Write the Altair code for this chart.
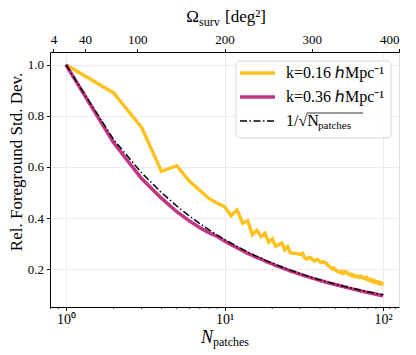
import altair as alt
import pandas as pd
import numpy as np

n_patches = list(range(1, 101))
std_k016 = [
    1.0, 0.89, 0.755, 0.583, 0.605, 0.545, 0.508, 0.476, 0.458, 0.445,
    0.41, 0.432, 0.38, 0.39, 0.335, 0.352, 0.328, 0.34, 0.305, 0.318,
    0.29, 0.296, 0.302, 0.276, 0.288, 0.265, 0.262, 0.262, 0.26, 0.258,
    0.262, 0.245, 0.24, 0.245, 0.244, 0.236, 0.232, 0.238, 0.236, 0.228,
    0.226, 0.23, 0.226, 0.222, 0.214, 0.21, 0.206, 0.2, 0.204, 0.198,
    0.194, 0.19, 0.19, 0.186, 0.19, 0.184, 0.19, 0.186, 0.188, 0.182,
    0.18, 0.178, 0.18, 0.174, 0.176, 0.172, 0.174, 0.17, 0.172, 0.171,
    0.168, 0.172, 0.168, 0.166, 0.168, 0.164, 0.165, 0.162, 0.166, 0.16,
    0.158, 0.16, 0.156, 0.158, 0.154, 0.156, 0.151, 0.154, 0.15, 0.152,
    0.149, 0.15, 0.146, 0.148, 0.144, 0.146, 0.143, 0.145, 0.14, 0.138,
]
std_k036 = [
    1.0, 0.695, 0.555, 0.478, 0.425, 0.389, 0.362, 0.342, 0.328, 0.31,
    0.296, 0.284, 0.272, 0.262, 0.254, 0.245, 0.24, 0.232, 0.226, 0.221,
    0.214, 0.21, 0.206, 0.201, 0.197, 0.193, 0.19, 0.187, 0.183, 0.18,
    0.178, 0.174, 0.172, 0.169, 0.167, 0.164, 0.163, 0.16, 0.158, 0.157,
    0.154, 0.153, 0.15, 0.149, 0.147, 0.146, 0.144, 0.143, 0.141, 0.14,
    0.138, 0.137, 0.136, 0.134, 0.133, 0.132, 0.131, 0.129, 0.129, 0.127,
    0.126, 0.125, 0.124, 0.123, 0.122, 0.121, 0.12, 0.119, 0.119, 0.117,
    0.117, 0.115, 0.115, 0.114, 0.113, 0.112, 0.112, 0.11, 0.11, 0.109,
    0.108, 0.108, 0.106, 0.106, 0.105, 0.105, 0.104, 0.103, 0.103, 0.102,
    0.101, 0.101, 0.1, 0.099, 0.099, 0.098, 0.098, 0.097, 0.096, 0.095,
]
x_major_ticks = [1, 10, 100]
x_minor_ticks = [0.8, 0.9, 2, 3, 4, 5, 6, 7, 8, 9,
                 20, 30, 40, 50, 60, 70, 80, 90, 110, 120]
y_ticks = [0.2, 0.4, 0.6, 0.8, 1.0]
omega_ticks = [4, 40, 100, 200, 300, 400]
legend_labels = ["k=0.16 \u210eMpc\u207b\u00b9", "k=0.36 \u210eMpc\u207b\u00b9", "1/\u221aN"]
y_title = "Rel. Foreground Std. Dev."

YELLOW = "#FDC221"
MAGENTA = "#C13584"
SERIF = "Liberation Serif"
W, H = 349, 255

df_y = pd.DataFrame({"N": n_patches, "v": std_k016})
df_m = pd.DataFrame({"N": n_patches, "v": std_k036})
df_b = pd.DataFrame({"N": n_patches, "v": 1.0 / np.sqrt(np.array(n_patches, dtype=float))})
df_minor = pd.DataFrame({"N": x_minor_ticks})
one = pd.DataFrame({"a": [0]})

xscale = alt.Scale(type="log", domain=[0.794, 125.9], nice=False)
yscale = alt.Scale(domain=[0.052, 1.05], nice=False, zero=False)

xaxis = alt.Axis(
    values=x_major_ticks,
    labelExpr="datum.value == 1 ? '10\u2070' : (datum.value == 10 ? '10\u00b9' : '10\u00b2')",
    title=None, grid=True, gridColor="#e6e6e6", gridWidth=0.8,
    tickSize=3.5, tickColor="black", domainColor="black",
    labelFont=SERIF, labelFontSize=14, labelColor="black", labelPadding=2,
)
yaxis = alt.Axis(
    values=y_ticks, format=".1f", title=None,
    grid=True, gridColor="#e6e6e6", gridWidth=0.8,
    tickSize=3.5, tickColor="black", domainColor="black",
    labelFont=SERIF, labelFontSize=13, labelColor="black", labelPadding=3,
)

X = alt.X("N:Q", scale=xscale, axis=xaxis)
Y = alt.Y("v:Q", scale=yscale, axis=yaxis)

yellow = alt.Chart(df_y).mark_line(color=YELLOW, strokeWidth=3.5).encode(x=X, y=Y)
magenta = alt.Chart(df_m).mark_line(color=MAGENTA, strokeWidth=3.5).encode(x=X, y=Y)
black = alt.Chart(df_b).mark_line(color="black", strokeWidth=1.5, strokeDash=[7, 2.5, 1.5, 2.5]).encode(x=X, y=Y)
minor = alt.Chart(df_minor).mark_rule(color="black", strokeWidth=0.8).encode(
    x=X, y=alt.value(H), y2=alt.value(H + 2))


def txt(s, x, y, size, align="left", style="normal", angle=0):
    return alt.Chart(one).mark_text(
        text=s, font=SERIF, fontSize=size, align=align, baseline="alphabetic",
        fontStyle=style, color="black", angle=angle,
    ).encode(x=alt.value(x), y=alt.value(y))


# axis titles
titles = [
    txt(y_title, -28, 110, 17, align="center", angle=270),
    txt("N", 163, 291, 18, align="right", style="italic"),
    txt("patches", 163, 294, 12),
    txt("\u03a9", 149, -30, 17, align="right"),
    txt("surv", 149, -26, 12),
    txt("[deg\u00b2]", 175, -30, 17),
]

# legend
box = alt.Chart(one).mark_rect(fill="white", fillOpacity=0.85, stroke="#cccccc",
                               strokeWidth=0.8, cornerRadius=4).encode(
    x=alt.value(186), x2=alt.value(341), y=alt.value(9), y2=alt.value(86))
leg = [
    box,
    alt.Chart(one).mark_rule(color=YELLOW, strokeWidth=3.5).encode(
        x=alt.value(190), x2=alt.value(225), y=alt.value(21)),
    alt.Chart(one).mark_rule(color=MAGENTA, strokeWidth=3.5).encode(
        x=alt.value(190), x2=alt.value(225), y=alt.value(45)),
    alt.Chart(one).mark_rule(color="black", strokeWidth=1.5, strokeDash=[7, 2.5, 1.5, 2.5]).encode(
        x=alt.value(190), x2=alt.value(225), y=alt.value(69)),
    txt(legend_labels[0], 236, 26, 16),
    txt(legend_labels[1], 236, 50, 16),
    txt(legend_labels[2], 236, 74, 16),
    txt("patches", 268, 77, 11),
    alt.Chart(one).mark_rule(color="black", strokeWidth=0.8).encode(
        x=alt.value(257), x2=alt.value(313), y=alt.value(61)),
]

main = alt.layer(yellow, magenta, black, minor, *titles, *leg)

top = alt.Chart(pd.DataFrame({"omega": omega_ticks})).mark_point(opacity=0).encode(
    x=alt.X("omega:Q", scale=alt.Scale(domain=[0, 400], nice=False, zero=False),
            axis=alt.Axis(orient="top", values=omega_ticks, title=None, grid=False,
                          tickSize=3.5, tickColor="black", domainColor="black",
                          labelFont=SERIF, labelFontSize=13, labelColor="black",
                          labelPadding=2)),
    y=alt.value(0),
)

chart = alt.layer(main, top).resolve_scale(x="independent").properties(
    width=W, height=H,
    autosize=alt.AutoSizeParams(type="none"),
    padding={"left": 42, "top": 44, "right": 9, "bottom": 47},
).configure_view(stroke="black", strokeWidth=1).configure(background="white")

chart.save("out.html", embed_options={"renderer": "svg", "actions": False})
